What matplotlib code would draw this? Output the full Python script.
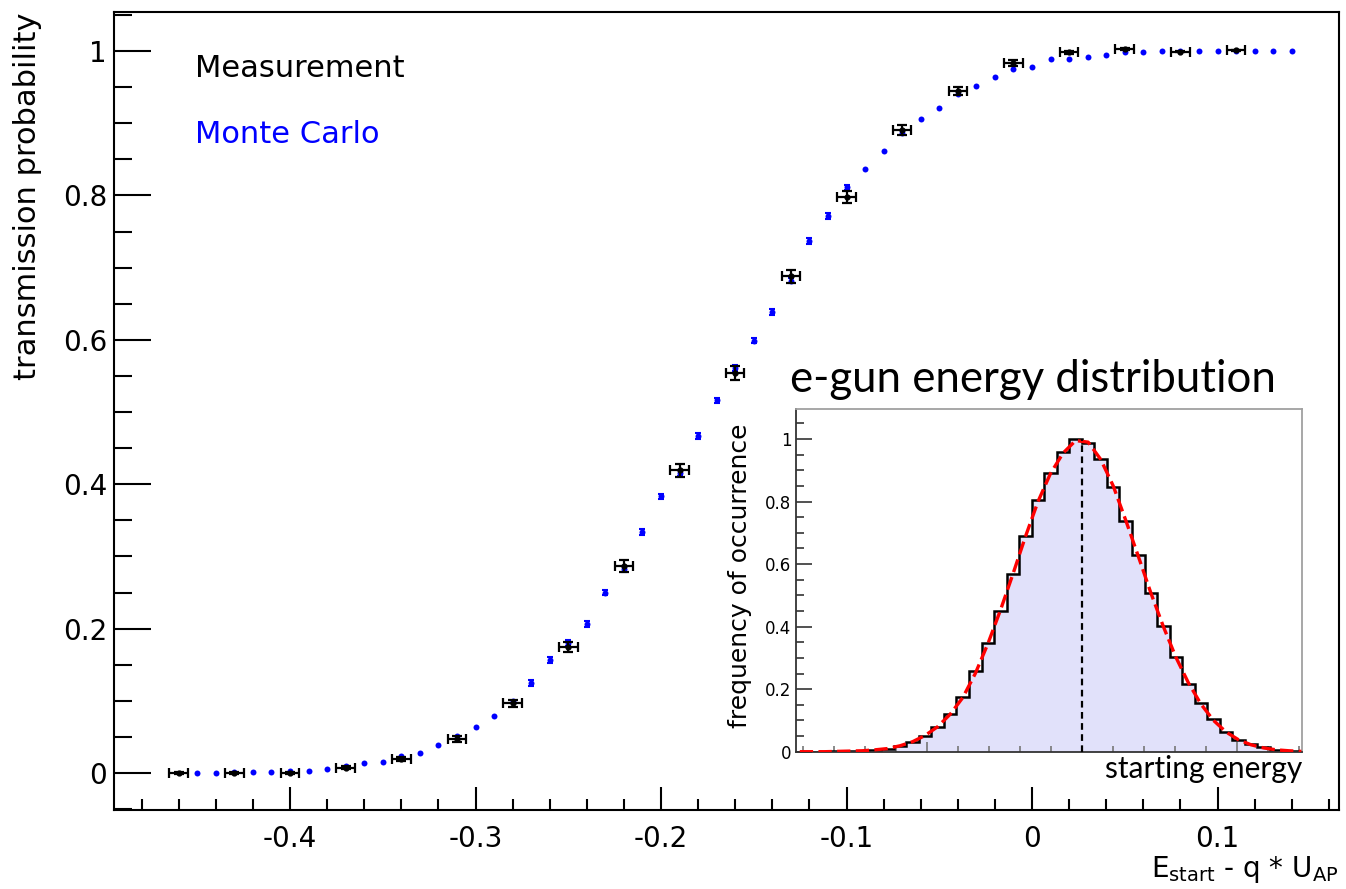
import numpy as np
import matplotlib.pyplot as plt
from matplotlib.ticker import MultipleLocator, FixedLocator, FuncFormatter, NullFormatter

plt.rcParams['font.family'] = 'DejaVu Sans'
plt.rcParams['axes.unicode_minus'] = False
plt.rcParams['mathtext.fontset'] = 'custom'
plt.rcParams['mathtext.rm'] = 'DejaVu Sans'

# measured transmission (e-gun scan)
meas_x = [-0.46, -0.43, -0.40, -0.37, -0.34, -0.31, -0.28, -0.25, -0.22, -0.19,
          -0.16, -0.13, -0.10, -0.07, -0.04, -0.01, 0.02, 0.05, 0.08, 0.11]
meas_y = [0.0, 0.0, 0.0, 0.0075, 0.0194, 0.0467, 0.0965, 0.175, 0.287, 0.419,
          0.554, 0.688, 0.798, 0.891, 0.9446, 0.983, 0.998, 1.0028, 0.999, 1.001]
meas_yerr = [0.001, 0.001, 0.002, 0.002, 0.003, 0.004, 0.005, 0.007, 0.008, 0.009,
             0.010, 0.009, 0.008, 0.007, 0.005, 0.004, 0.002, 0.002, 0.001, 0.001]
meas_xerr = 0.005

# simulated transmission
mc_x = np.round(np.arange(-0.45, 0.145, 0.01), 2)
mc_y = [0.000, 0.000, 0.001, 0.0014, 0.0014, 0.0028, 0.0032, 0.006, 0.0093, 0.0143,
        0.0157, 0.0235, 0.028, 0.039, 0.0517, 0.064, 0.079, 0.100, 0.125, 0.1565,
        0.180, 0.206, 0.250, 0.283, 0.334, 0.383, 0.415, 0.467, 0.516, 0.561,
        0.599, 0.638, 0.682, 0.737, 0.771, 0.811, 0.837, 0.862, 0.886, 0.906,
        0.9215, 0.940, 0.9515, 0.964, 0.9746, 0.978, 0.989, 0.989, 0.9917, 0.995,
        0.998, 0.998, 0.9995, 0.9995, 0.9995, 0.9995, 1.0, 1.0, 1.0, 1.0]
mc_yerr = [0, 0, 0, 0, 0, 0, 0, 0, 0, 0,
           0, 0, 0, 0, 0, 0, 0, 0, 0.004, 0.004,
           0.004, 0.004, 0.004, 0.004, 0.004, 0.004, 0.004, 0.004, 0.004, 0.004,
           0.004, 0.004, 0.004, 0.004, 0.004, 0.004, 0, 0, 0, 0,
           0, 0, 0, 0, 0, 0, 0, 0, 0, 0,
           0, 0, 0, 0, 0, 0, 0, 0, 0, 0]

# e-gun energy distribution (inset)
hist_lo = -0.297
hist_width = 0.4043
hist_vals = [0, 0, 0, 0.001, 0.002, 0.003, 0.005, 0.010, 0.018, 0.032,
             0.050, 0.080, 0.121, 0.176, 0.258, 0.349, 0.451, 0.568, 0.690, 0.805,
             0.892, 0.957, 1.0, 0.988, 0.935, 0.845, 0.738, 0.628, 0.509, 0.402,
             0.304, 0.215, 0.155, 0.103, 0.064, 0.039, 0.025, 0.014, 0.007, 0.003,
             0.001]
fit_vals = [0.0, 0.0, 0.0, 0.001, 0.002, 0.003, 0.006, 0.010, 0.019, 0.032,
            0.052, 0.080, 0.120, 0.173, 0.250, 0.345, 0.452, 0.568, 0.688, 0.800,
            0.890, 0.955, 0.995, 0.990, 0.935, 0.850, 0.740, 0.625, 0.508, 0.400,
            0.302, 0.220, 0.152, 0.100, 0.063, 0.038, 0.022, 0.012, 0.006, 0.003,
            0.001]
peak_pos = 9.0

fig = plt.figure(figsize=(13.46, 8.89), dpi=100)
W, H = 1346.0, 889.0

ax = fig.add_axes([114 / W, 1 - 810 / H, (1339 - 114) / W, (810 - 12) / H])

mc_x = np.asarray(mc_x)
mc_y = np.asarray(mc_y)
mc_yerr = np.asarray(mc_yerr)
has_err = mc_yerr > 0
ax.errorbar(mc_x[has_err], mc_y[has_err], yerr=mc_yerr[has_err], fmt='none',
            ecolor='blue', elinewidth=1.5, capsize=2.5, capthick=1.5, zorder=2)
ax.plot(mc_x, mc_y, 'o', color='blue', markersize=4.3, markeredgewidth=0, zorder=3)

ax.errorbar(meas_x, meas_y, xerr=meas_xerr, yerr=meas_yerr, fmt='o', color='black',
            markersize=3.5, elinewidth=1.6, capsize=3.5, capthick=1.6, zorder=4)

ax.set_xlim(-0.4949, 0.1655)
ax.set_ylim(-0.0512, 1.054)

fmt = FuncFormatter(lambda v, p: f'{round(v, 6) + 0:g}')
ax.xaxis.set_major_locator(MultipleLocator(0.1))
ax.xaxis.set_minor_locator(MultipleLocator(0.02))
ax.yaxis.set_major_locator(MultipleLocator(0.2))
ax.yaxis.set_minor_locator(MultipleLocator(0.05))
ax.xaxis.set_major_formatter(fmt)
ax.yaxis.set_major_formatter(fmt)

ax.tick_params(axis='x', which='major', direction='in', length=16.6, width=1.5,
               labelsize=20, pad=11, top=False)
ax.tick_params(axis='x', which='minor', direction='in', length=8.2, width=1.5, top=False)
ax.tick_params(axis='y', which='major', direction='in', length=26.6, width=1.5,
               labelsize=20, pad=5, right=False)
ax.tick_params(axis='y', which='minor', direction='in', length=13, width=1.5, right=False)
for s in ax.spines.values():
    s.set_linewidth(1.5)

fig.text(28 / W, 1 - 12 / H, 'transmission probability', rotation=90,
         ha='center', va='top', fontsize=22)
fig.text(1339 / W, 1 - 877 / H, r'E$_{\mathregular{start}}$ - q * U$_{\mathregular{AP}}$',
         ha='right', va='baseline', fontsize=20)

fig.text(195 / W, 1 - 77 / H, 'Measurement', color='black', fontsize=22, va='baseline')
fig.text(195 / W, 1 - 143 / H, 'Monte Carlo', color='blue', fontsize=22, va='baseline')

# inset: energy distribution of the e-gun
ins = fig.add_axes([795.7 / W, 1 - 751.7 / H, (1302 - 795.7) / W, (751.7 - 409) / H])
edges = hist_lo + hist_width * np.arange(len(hist_vals) + 1)
centers = edges[:-1] + hist_width / 2
ins.stairs(hist_vals, edges, fill=True, color='#e1e1fa', zorder=1)
ins.stairs(hist_vals, edges, color='black', linewidth=1.8, zorder=2)
ins.plot(centers, fit_vals, color='red', linewidth=2.4, dashes=(4, 1.6), zorder=3)
ins.plot([peak_pos, peak_pos], [0, 1.0], color='black', linewidth=1.6,
         dashes=(3, 2), zorder=4)

ins.set_xlim(-0.226, 16.1)
ins.set_ylim(0, 1.096)
ins.xaxis.set_major_locator(FixedLocator([4, 14]))
ins.xaxis.set_minor_locator(FixedLocator(range(17)))
ins.xaxis.set_major_formatter(NullFormatter())
ins.yaxis.set_major_locator(MultipleLocator(0.2))
ins.yaxis.set_minor_locator(MultipleLocator(0.05))
ins.yaxis.set_major_formatter(fmt)
ins.tick_params(axis='x', which='major', direction='in', length=7, width=1.2,
                color='#777777', top=False)
ins.tick_params(axis='x', which='minor', direction='in', length=4, width=1.2,
                color='#777777', top=False)
ins.tick_params(axis='y', which='major', direction='in', length=11.5, width=1.2,
                color='#333333', labelsize=12, pad=3, right=False)
ins.tick_params(axis='y', which='minor', direction='in', length=5.8, width=1.2,
                color='#333333', right=False)
ins.spines['left'].set_color('#333333')
ins.spines['bottom'].set_color('#333333')
ins.spines['top'].set_color('#a0a0a0')
ins.spines['right'].set_color('#a0a0a0')
for s in ins.spines.values():
    s.set_linewidth(1.3)

fig.text(740 / W, 1 - 423 / H, 'frequency of occurrence', rotation=90,
         ha='center', va='top', fontsize=18)
fig.text(790 / W, 1 - 392 / H, 'e-gun energy distribution', family='Lato',
         fontsize=31.5, va='baseline', ha='left')
fig.text(1302 / W, 1 - 778 / H, 'starting energy', family='Lato',
         fontsize=21.5, va='baseline', ha='right')

fig.savefig('out.png', dpi=100)
